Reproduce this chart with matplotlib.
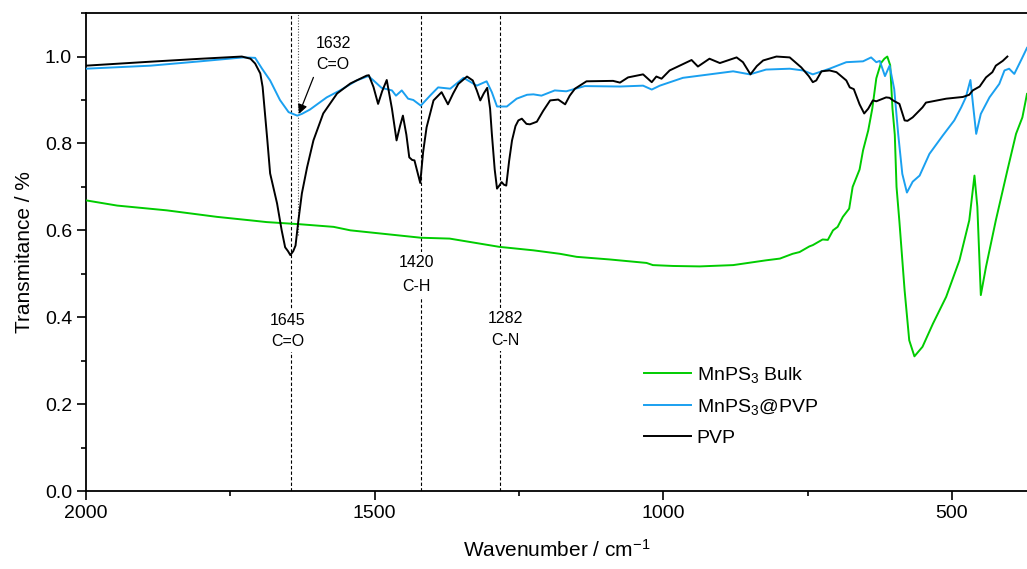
import matplotlib
matplotlib.use("Agg")
import matplotlib.pyplot as plt
from matplotlib.ticker import MultipleLocator

plt.rcParams['font.family'] = ['Liberation Sans', 'DejaVu Sans']
plt.rcParams['mathtext.default'] = 'regular'

# %%
# Data (wavenumber / cm-1, transmittance)
# ------------------------------------------

wn_pvp = [2000, 1890, 1800, 1745, 1730, 1715, 1707, 1698, 1694, 1690, 1686, 1681, 1669, 1661,
          1655, 1650, 1646, 1641, 1637, 1632, 1626, 1617, 1606, 1589, 1565, 1542, 1514, 1510,
          1502, 1494, 1487, 1479, 1470, 1462, 1456, 1451, 1445, 1440, 1435, 1431, 1425, 1421,
          1416, 1410, 1398, 1384, 1373, 1364, 1355, 1340, 1330, 1323, 1317, 1311, 1305, 1300,
          1297, 1292, 1288, 1284, 1280, 1276, 1272, 1267, 1262, 1256, 1251, 1245, 1237, 1231,
          1219, 1208, 1196, 1182, 1170, 1162, 1153, 1133, 1087, 1075, 1061, 1035, 1020, 1012,
          1003, 989, 951, 940, 920, 902, 873, 862, 849, 838, 827, 804, 781, 761, 748, 741,
          735, 726, 712, 700, 683, 677, 670, 660, 652, 645, 637, 631, 614, 608, 602, 591,
          582, 577, 568, 551, 545, 522, 510, 481, 470, 464, 452, 441, 430, 424, 412, 404]
t_pvp = [0.979, 0.988, 0.995, 0.999, 1.0, 0.995, 0.984, 0.961, 0.93, 0.87, 0.81, 0.731, 0.662, 0.60,
         0.561, 0.552, 0.543, 0.552, 0.565, 0.623, 0.685, 0.745, 0.807, 0.869, 0.915, 0.938, 0.956, 0.957,
         0.93, 0.891, 0.92, 0.946, 0.88, 0.807, 0.84, 0.864, 0.82, 0.768, 0.762, 0.761, 0.73, 0.709,
         0.78, 0.837, 0.899, 0.918, 0.89, 0.915, 0.937, 0.954, 0.945, 0.922, 0.899, 0.915, 0.928, 0.88,
         0.823, 0.74, 0.696, 0.703, 0.711, 0.705, 0.703, 0.76, 0.807, 0.84, 0.853, 0.857, 0.845, 0.844,
         0.85, 0.875, 0.899, 0.901, 0.89, 0.91, 0.926, 0.943, 0.944, 0.94, 0.952, 0.959, 0.941, 0.954,
         0.949, 0.968, 0.992, 0.977, 0.995, 0.985, 0.998, 0.987, 0.959, 0.978, 0.991, 1.0, 0.998, 0.975, 0.955, 0.941,
         0.945, 0.966, 0.968, 0.964, 0.945, 0.929, 0.925, 0.89, 0.869, 0.88, 0.899, 0.897, 0.906, 0.905, 0.899, 0.891,
         0.853, 0.852, 0.86, 0.883, 0.894, 0.9, 0.903, 0.907, 0.912, 0.922, 0.931, 0.952, 0.964, 0.979, 0.99, 1.0]

wn_pvp_mn = [2000, 1888, 1802, 1728, 1707, 1695, 1681, 1664, 1649, 1634, 1626, 1612, 1583, 1560,
             1531, 1511, 1502, 1488, 1470, 1463, 1453, 1442, 1433, 1420, 1404, 1390, 1369, 1346,
             1323, 1306, 1297, 1288, 1271, 1254, 1236, 1225, 1211, 1188, 1168, 1136, 1075, 1035,
             1020, 1006, 966, 937, 879, 850, 822, 781, 758, 741, 712, 683, 654, 640, 631, 625,
             616, 608, 600, 593, 586, 578, 568, 556, 539, 516, 496, 484, 476, 468, 463, 458,
             450, 435, 418, 409, 401, 392, 379, 370]
t_pvp_mn = [0.972, 0.979, 0.989, 0.998, 0.997, 0.972, 0.945, 0.9, 0.872, 0.864, 0.868, 0.878, 0.906, 0.922,
            0.945, 0.955, 0.945, 0.928, 0.922, 0.91, 0.922, 0.903, 0.9, 0.887, 0.91, 0.929, 0.926, 0.951,
            0.933, 0.943, 0.918, 0.885, 0.885, 0.903, 0.912, 0.913, 0.91, 0.922, 0.92, 0.932, 0.931, 0.933,
            0.924, 0.933, 0.951, 0.956, 0.966, 0.959, 0.97, 0.972, 0.968, 0.959, 0.972, 0.987, 0.989, 0.998, 0.987, 0.99,
            0.955, 0.979, 0.925, 0.82, 0.73, 0.687, 0.712, 0.726, 0.776, 0.818, 0.853, 0.883, 0.906, 0.946, 0.883, 0.822,
            0.868, 0.906, 0.937, 0.968, 0.972, 0.96, 0.995, 1.02]

wn_bulk = [2000, 1946, 1860, 1773, 1715, 1687, 1629, 1571, 1542, 1420, 1370, 1284, 1225, 1179,
           1150, 1093, 1029, 1018, 983, 937, 879, 822, 798, 776, 764, 747, 741, 724, 715, 706,
           698, 689, 678, 672, 660, 654, 645, 638, 631, 623, 617, 612, 607, 603, 599, 596,
           591, 582, 574, 565, 551, 533, 510, 487, 470, 461, 456, 450, 441, 424, 404, 389, 378, 370]
t_bulk = [0.669, 0.657, 0.646, 0.631, 0.623, 0.619, 0.614, 0.608, 0.6, 0.583, 0.581, 0.562, 0.554, 0.546,
          0.539, 0.533, 0.525, 0.52, 0.518, 0.517, 0.52, 0.531, 0.535, 0.546, 0.55, 0.563, 0.566, 0.579, 0.578, 0.6,
          0.608, 0.631, 0.65, 0.7, 0.74, 0.784, 0.83, 0.88, 0.95, 0.985, 0.995, 1.0, 0.98, 0.88, 0.82, 0.70,
          0.62, 0.462, 0.347, 0.31, 0.332, 0.385, 0.447, 0.531, 0.623, 0.726, 0.654, 0.451, 0.516, 0.623, 0.738, 0.822, 0.86, 0.914]

# band assignments
band_pos = [1645, 1420, 1282]
band_text = ["1645\nC=O", "1420\nC-H", "1282\nC-N"]
band_text_x = [1651, 1428, 1274]
band_text_y = [0.368, 0.498, 0.372]
band_spacing = [1.5, 1.75, 1.6]

# %%
# Plot
# ------------------------------------------

fig = plt.figure(figsize=(10.27, 5.69), dpi=100)
ax = fig.add_axes([0.0837, 0.137, 0.9163, 0.84])

for x in band_pos:
    ax.axvline(x, color="black", ls=(0, (3, 2)), lw=0.8, zorder=1)
ax.plot([1632, 1632], [0.59, 1.1], color="#555555", ls=(0, (1, 1.5)), lw=0.8, zorder=1)

ax.plot(wn_bulk, t_bulk, color="#00CC00", lw=1.4, label="MnPS$_3$ Bulk", zorder=3)
ax.plot(wn_pvp_mn, t_pvp_mn, color="#1AA0F0", lw=1.4, label="MnPS$_3$@PVP", zorder=3)
ax.plot(wn_pvp, t_pvp, color="black", lw=1.4, label="PVP", zorder=3)

for tx, ty, s, ls in zip(band_text_x, band_text_y, band_text, band_spacing):
    ax.text(tx, ty, s, ha="center", va="center", fontsize=11.5, linespacing=ls,
            bbox=dict(facecolor="white", edgecolor="none", pad=2), zorder=2)

# 1632 label with arrow onto the MnPS3@PVP band
ax.text(1572, 1.005, "1632\nC=O", ha="center", va="center", fontsize=11.5, linespacing=1.5)
ax.annotate("", xy=(1631, 0.868), xytext=(1606, 0.952),
            arrowprops=dict(arrowstyle="-|>", color="black", lw=0.9, mutation_scale=14,
                            shrinkA=0, shrinkB=0))

ax.set_xlim(2000, 370)
ax.set_ylim(0, 1.1)
ax.xaxis.set_major_locator(MultipleLocator(500))
ax.xaxis.set_minor_locator(MultipleLocator(250))
ax.yaxis.set_major_locator(MultipleLocator(0.2))
ax.yaxis.set_minor_locator(MultipleLocator(0.1))
ax.tick_params(which="major", direction="out", length=6.5, width=1.2, labelsize=14)
ax.tick_params(which="minor", direction="out", length=3.5, width=1.2)
ax.spines["right"].set_visible(False)
for s in ["left", "bottom", "top"]:
    ax.spines[s].set_linewidth(1.3)

ax.set_xlabel("Wavenumber / cm$^{-1}$", fontsize=15, labelpad=12)
ax.set_ylabel("Transmitance / %", fontsize=15, labelpad=8)

ax.legend(loc="upper left", bbox_to_anchor=(0.585, 0.28), frameon=False, fontsize=14,
          handlelength=2.4, handletextpad=0.3, labelspacing=0.62, borderaxespad=0)

fig.savefig("out.png", dpi=100)
